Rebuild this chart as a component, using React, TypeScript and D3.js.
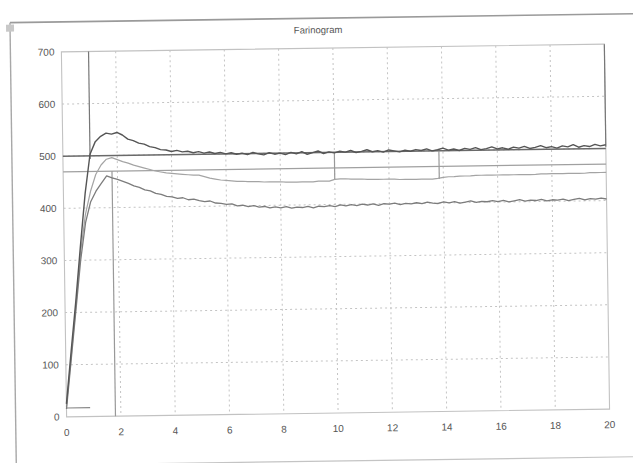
import React from "react";
import * as d3 from "d3";

// Time axis (min), shared by all three traces: 0 .. 20 in steps of 0.2
const TIME: number[] = Array.from({ length: 101 }, (_, i) => +(i * 0.2).toFixed(1));

// Upper trace (BU)
const TRACE_UPPER: number[] = [
  25, 125, 222, 328, 428, 503, 527, 537, 543, 541,
  544, 539, 531, 528, 523, 521, 516, 514, 510, 509,
  506, 508, 505, 506, 503, 505, 502, 504, 501, 503,
  500, 502, 499, 501, 498, 502, 499, 497, 501, 498,
  500, 497, 501, 498, 502, 497, 500, 503, 498, 501,
  499, 502, 500, 503, 499, 501, 504, 500, 502, 499,
  503, 501, 499, 502, 500, 503, 501, 504, 500, 502,
  505, 501, 503, 500, 504, 502, 505, 501, 503, 506,
  502, 504, 501, 505, 503, 506, 502, 504, 507, 503,
  505, 502, 506, 504, 508, 503, 506, 504, 508, 505,
  507,
];

// Middle trace (BU)
const TRACE_MIDDLE: number[] = [
  20, 115, 212, 315, 388, 432, 464, 482, 493, 496,
  492, 488, 485, 481, 478, 475, 472, 469, 467, 465,
  464, 463, 462, 461, 460, 460, 457, 454, 452, 450,
  449, 448, 447, 447, 446, 446, 446, 445, 445, 445,
  445, 444, 444, 444, 444, 444, 444, 445, 445, 445,
  448, 449, 449, 448, 448, 448, 447, 447, 447, 447,
  447, 447, 446, 446, 446, 446, 446, 446, 446, 447,
  449, 450, 450, 451, 451, 451, 452, 452, 452, 452,
  452, 452, 452, 452, 452, 452, 452, 452, 453, 453,
  453, 453, 453, 453, 453, 453, 453, 454, 454, 454,
  454,
];

// Lower trace (BU)
const TRACE_LOWER: number[] = [
  15, 110, 205, 300, 372, 412, 432, 447, 461, 457,
  454, 450, 446, 441, 438, 433, 431, 426, 424, 420,
  419, 416, 417, 413, 414, 411, 409, 410, 406, 405,
  403, 404, 400, 401, 398, 400, 397, 398, 395, 397,
  395, 397, 394, 396, 395, 397, 394, 397, 396, 398,
  396, 399, 397, 399, 397, 400, 398, 400, 397, 400,
  399, 401, 398, 400, 399, 401, 399, 402, 400, 399,
  402, 400, 402, 399, 401, 403, 400, 402, 401, 403,
  401, 403, 400, 402, 404, 401, 403, 402, 404, 401,
  403, 402, 404, 401, 403, 405, 402, 404, 403, 405,
  403,
];

// Horizontal reference levels (BU)
const REF_LEVELS: number[] = [500, 470];

// Vertical markers: time, from level, to level
const MARKER_TIMES: number[] = [1.0, 1.8, 10.0, 13.85, 20.0];
const MARKER_FROM: number[] = [700, 470, 500, 500, 700];
const MARKER_TO: number[] = [494, 0, 447, 446, 503];

// Baseline stub near the origin
const STUB_TIME: number[] = [0, 0.87];
const STUB_LEVEL = 17;

const X_TICKS: number[] = [0, 2, 4, 6, 8, 10, 12, 14, 16, 18, 20];
const Y_TICKS: number[] = [0, 100, 200, 300, 400, 500, 600, 700];
const TITLE = "Farinogram";

const W = 633;
const H = 463;
const PLOT = { left: 64, right: 607, top: 48, bottom: 413 };
const FONT = "'Liberation Sans', Arial, sans-serif";

export default function App() {
  const x = d3.scaleLinear().domain([0, 20]).range([PLOT.left, PLOT.right]);
  const y = d3.scaleLinear().domain([0, 700]).range([PLOT.bottom, PLOT.top]);

  const line = d3
    .line<[number, number]>()
    .x((d) => x(d[0]))
    .y((d) => y(d[1]));

  const pts = (vals: number[]) => TIME.map((t, i) => [t, vals[i]] as [number, number]);

  const traces = [
    { vals: TRACE_MIDDLE, color: "#a4a4a4", w: 1.2 },
    { vals: TRACE_LOWER, color: "#7c7c7c", w: 1.3 },
    { vals: TRACE_UPPER, color: "#555", w: 1.4 },
  ];

  return (
    <svg
      width={W}
      height={H}
      style={{ position: "absolute", left: 0, top: 0, background: "#fff" }}
      xmlns="http://www.w3.org/2000/svg"
    >
      <rect x={0} y={0} width={W} height={H} fill="#fff" />
      <g transform="rotate(-0.82, 336, 232)">
        {/* window chrome */}
        <line x1={13} y1={18} x2={640} y2={18} stroke="#9a9a9a" strokeWidth={1.6} />
        <line x1={13} y1={18} x2={13} y2={470} stroke="#a8a8a8" strokeWidth={1.4} />
        <line x1={95} y1={461} x2={640} y2={461} stroke="#c4c4c4" strokeWidth={1.2} />
        <rect x={9} y={20} width={8} height={7} fill="#c8c8c8" />

        <text x={321} y={33} textAnchor="middle" fontFamily={FONT} fontSize={9.5} fill="#555">
          {TITLE}
        </text>

        {/* grid */}
        {X_TICKS.filter((t) => t > 0 && t < 20).map((t) => (
          <line
            key={"gx" + t}
            x1={x(t)}
            x2={x(t)}
            y1={y(700)}
            y2={y(0)}
            stroke="#c4c4c4"
            strokeWidth={1}
            strokeDasharray="2,3"
          />
        ))}
        {Y_TICKS.filter((v) => v > 0 && v < 700).map((v) => (
          <line
            key={"gy" + v}
            x1={x(0)}
            x2={x(20)}
            y1={y(v)}
            y2={y(v)}
            stroke="#c4c4c4"
            strokeWidth={1}
            strokeDasharray="2,3"
          />
        ))}
        <rect
          x={x(0)}
          y={y(700)}
          width={x(20) - x(0)}
          height={y(0) - y(700)}
          fill="none"
          stroke="#c2c2c2"
          strokeWidth={1.1}
        />

        {/* axis labels */}
        {Y_TICKS.map((v) => (
          <text
            key={"ly" + v}
            x={x(0) - 7}
            y={y(v) + 3.5}
            textAnchor="end"
            fontFamily={FONT}
            fontSize={10}
            fill="#555"
          >
            {v}
          </text>
        ))}
        {X_TICKS.map((t) => (
          <text
            key={"lx" + t}
            x={x(t)}
            y={y(0) + 19}
            textAnchor="middle"
            fontFamily={FONT}
            fontSize={10}
            fill="#555"
          >
            {t}
          </text>
        ))}

        {/* reference levels */}
        {REF_LEVELS.map((v, i) => (
          <line
            key={"ref" + v}
            x1={x(0)}
            x2={x(20)}
            y1={y(v)}
            y2={y(v)}
            stroke={i === 0 ? "#6a6a6a" : "#a0a0a0"}
            strokeWidth={i === 0 ? 1.5 : 1.2}
          />
        ))}

        {/* markers */}
        {MARKER_TIMES.map((t, i) => (
          <line
            key={"mk" + i}
            x1={x(t)}
            x2={x(t)}
            y1={y(MARKER_FROM[i])}
            y2={y(MARKER_TO[i])}
            stroke={i === 0 || i === 4 ? "#777" : "#999"}
            strokeWidth={1.2}
          />
        ))}
        <line
          x1={x(STUB_TIME[0])}
          x2={x(STUB_TIME[1])}
          y1={y(STUB_LEVEL)}
          y2={y(STUB_LEVEL)}
          stroke="#888"
          strokeWidth={1.2}
        />

        {/* traces */}
        {traces.map((tr, i) => (
          <path
            key={"tr" + i}
            d={line(pts(tr.vals)) || ""}
            fill="none"
            stroke={tr.color}
            strokeWidth={tr.w}
            strokeLinejoin="round"
          />
        ))}
      </g>
    </svg>
  );
}
